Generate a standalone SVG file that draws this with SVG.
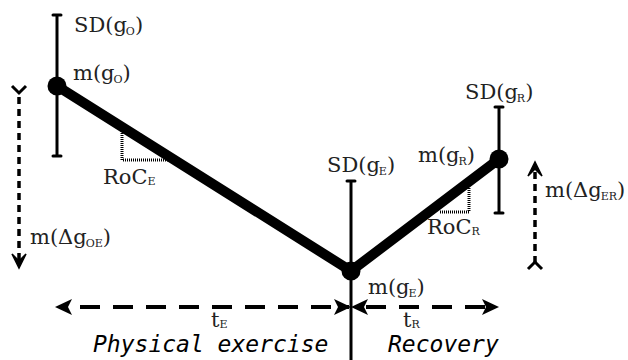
<svg xmlns="http://www.w3.org/2000/svg" width="628" height="360" viewBox="0 0 628 360">
<defs>
<style>
.lbl{font-family:"DejaVu Serif","Liberation Serif",serif;font-size:21px;fill:#222}
.sub{font-size:11px}
.phase{font-family:"DejaVu Sans Mono","Liberation Mono",monospace;font-style:italic;font-size:23px;fill:#000}
.bar{stroke:#000;stroke-width:3;fill:none}
.cap{stroke:#000;stroke-width:3;stroke-linecap:round}
.dot{stroke:#000;stroke-width:3;stroke-dasharray:1,1;fill:none}
.hd{stroke:#000;stroke-width:4;stroke-dasharray:20,13;fill:none}
.vd{stroke:#000;stroke-width:3.5;stroke-dasharray:7,5;fill:none}
</style>
</defs>
<g id="connectors">
<line class="hd" x1="80" y1="307" x2="349" y2="307"/>
<path d="M55,307 L72,299 L68,307 L72,315 z" fill="#000"/>
<path d="M351,307 L334,299 L338,307 L334,315 z" fill="#000"/>
<line class="hd" x1="366" y1="307" x2="485" y2="307"/>
<path d="M351,307 L368,299 L364,307 L368,315 z" fill="#000"/>
<path d="M499,307 L482,299 L486,307 L482,315 z" fill="#000"/>
<line class="vd" x1="19" y1="97" x2="19" y2="262"/>
<path d="M12,86 L19,93 L26,86" class="bar"/>
<path d="M12,254 L19,268 L26,254 L19,261 z" fill="#000" stroke="#000" stroke-width="1.5"/>
<line class="vd" x1="535" y1="172" x2="535" y2="262"/>
<path d="M528,176 L535,162 L542,176 L535,169 z" fill="#000" stroke="#000" stroke-width="1.5"/>
<path d="M528,269 L535,262 L542,269" class="bar"/>
</g>
<g id="trend">
<polyline points="57,86 351,271 499,159" fill="none" stroke="#000" stroke-width="10" stroke-linejoin="round"/>
<path class="dot" d="M122,131 L122,160 L170,160"/>
<path class="dot" d="M440,212 L469,212 L469,188"/>
</g>
<g id="node-O">
<line class="bar" x1="57" y1="15" x2="57" y2="156"/>
<line class="cap" x1="53" y1="15" x2="61" y2="15"/>
<line class="cap" x1="53" y1="156" x2="61" y2="156"/>
<circle cx="57" cy="86" r="9.5" fill="#000"/>
<text class="lbl" x="74" y="32">SD(g<tspan class="sub" dx="-1" dy="3">O</tspan><tspan dy="-3">)</tspan></text>
<text class="lbl" x="73" y="80">m(g<tspan class="sub" dx="-1" dy="3">O</tspan><tspan dy="-3">)</tspan></text>
</g>
<g id="node-E">
<line class="bar" x1="351" y1="181" x2="351" y2="360"/>
<line class="cap" x1="347" y1="181" x2="355" y2="181"/>
<circle cx="351" cy="271" r="9.5" fill="#000"/>
<text class="lbl" x="327" y="172">SD(g<tspan class="sub" dx="-1" dy="3">E</tspan><tspan dy="-3">)</tspan></text>
<text class="lbl" x="368" y="294">m(g<tspan class="sub" dx="-1" dy="3">E</tspan><tspan dy="-3">)</tspan></text>
</g>
<g id="node-R">
<line class="bar" x1="499" y1="107" x2="499" y2="213"/>
<line class="cap" x1="495" y1="107" x2="503" y2="107"/>
<line class="cap" x1="495" y1="213" x2="503" y2="213"/>
<circle cx="499" cy="159" r="9.5" fill="#000"/>
<text class="lbl" x="465" y="99">SD(g<tspan class="sub" dx="-1" dy="3">R</tspan><tspan dy="-3">)</tspan></text>
<text class="lbl" x="418" y="162">m(g<tspan class="sub" dx="-1" dy="3">R</tspan><tspan dy="-3">)</tspan></text>
</g>
<g id="labels">
<text class="lbl" x="103" y="184">RoC<tspan class="sub" dy="1">E</tspan></text>
<text class="lbl" x="427" y="234">RoC<tspan class="sub" dy="1">R</tspan></text>
<text class="lbl" x="30" y="244">m(Δg<tspan class="sub" dx="-1" dy="3">OE</tspan><tspan dy="-3">)</tspan></text>
<text class="lbl" x="545" y="197">m(Δg<tspan class="sub" dx="-1" dy="3">ER</tspan><tspan dy="-3">)</tspan></text>
<text class="lbl" x="211" y="327">t<tspan class="sub" dy="1">E</tspan></text>
<text class="lbl" x="403" y="327">t<tspan class="sub" dy="1">R</tspan></text>
<text class="phase" x="93" y="352">Physical exercise</text>
<text class="phase" x="388" y="352">Recovery</text>
</g>
</svg>
